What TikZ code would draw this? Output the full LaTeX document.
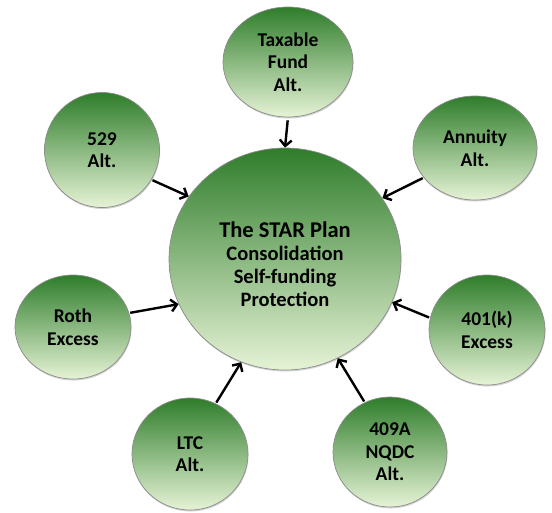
\documentclass[tikz,border=0pt]{standalone}
\usepackage{fontspec}
\setmainfont{Carlito}
\usetikzlibrary{shapes.geometric}
\usetikzlibrary{arrows.meta}
\usetikzlibrary{shadows}
\definecolor{leafdark}{HTML}{2F7D2B}
\definecolor{leafmid}{HTML}{93BA66}
\definecolor{leaflight}{HTML}{E6F3D6}
\tikzset{bubble/.style={ellipse, inner sep=0pt, align=center,
    top color=leafdark, middle color=leafmid, bottom color=leaflight,
    draw=black!45, line width=0.7pt,
    drop shadow={shadow xshift=0.5pt, shadow yshift=-1.5pt, opacity=0.35},
    font=\bfseries\fontsize{19.5}{22.5}\selectfont}}
\tikzset{feed/.style={->, line width=2.4pt, shorten <=1pt}}

\begin{document}
\begin{tikzpicture}[x=1pt, y=-1pt, >={Straight Barb[length=6pt,width=12pt]}]
    \useasboundingbox (0,0) rectangle (552,512);
    % the plan in the middle
    \node [bubble, minimum width=232pt, minimum height=222pt,
        font=\bfseries\fontsize{20.5}{23}\selectfont] (star) at (285,259)
        {{\fontsize{22.5}{23}\selectfont\rule{0pt}{27pt}The STAR Plan}\\Consolidation\\Self-funding\\Protection};

    % the alternatives around it
    \node [bubble, minimum width=130pt, minimum height=110pt] (taxable) at (288,62) {Taxable\\Fund\\Alt.};
    \node [bubble, minimum width=115pt, minimum height=115pt] (college) at (102,150) {529\\Alt.};
    \node [bubble, minimum width=124pt, minimum height=104pt] (annuity) at (475,148) {Annuity\\Alt.};
    \node [bubble, minimum width=116pt, minimum height=104pt] (roth) at (73,327) {Roth\\Excess};
    \node [bubble, minimum width=116pt, minimum height=110pt] (excess) at (487,330) {401(k)\\Excess};
    \node [bubble, minimum width=116pt, minimum height=112pt] (ltc) at (190,454) {LTC\\Alt.};
    \node [bubble, minimum width=114pt, minimum height=110pt] (nqdc) at (390,452) {409A\\NQDC\\Alt.};

    % everything flows into the plan
    \draw [feed, shorten <=3pt] (taxable.south) -- (star.north);
    \draw [feed] (college.329) -- (star.147);
    \draw [feed] (annuity.210) -- (star.32);
    \draw [feed] (roth.14) -- (star.203);
    \draw [feed] (excess.168) -- (star.338);
    \draw [feed] (ltc.63) -- (star.247);
    \draw [feed] (nqdc.117) -- (star.298);
\end{tikzpicture}
\end{document}
